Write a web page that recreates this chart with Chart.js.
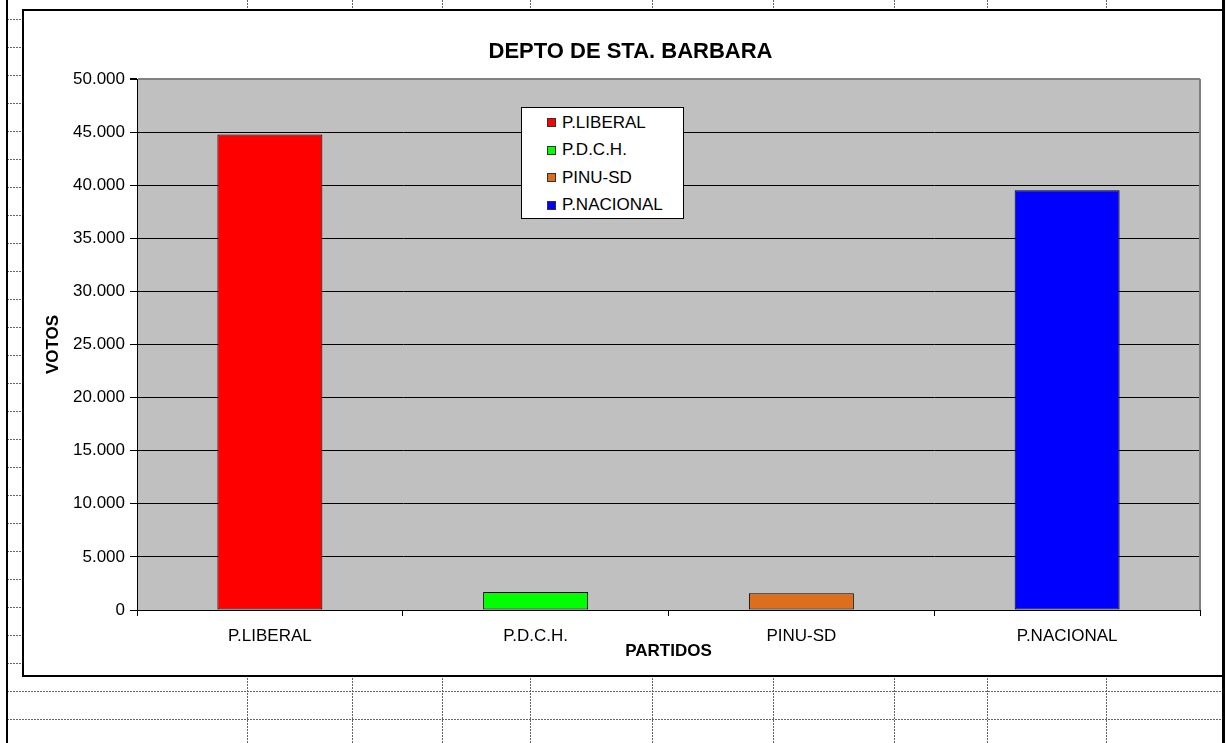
<!DOCTYPE html>
<html>
<head>
<meta charset="utf-8">
<script src="https://cdn.jsdelivr.net/npm/chart.js@4/dist/chart.umd.min.js"></script>
<style>
	body { margin: 0; width: 1226px; height: 743px; overflow: hidden; background: #fff; position: relative; font-family: Arial, "Liberation Sans", sans-serif; }
	#sheet { position: absolute; left: 0; top: 0; }
	#frame { position: absolute; left: 22px; top: 9px; width: 1198px; height: 664px; border: 2px solid #000; background: #fff; }
	#chart { position: absolute; left: 0; top: 0; }
	#title { position: absolute; left: 0; top: 27px; width: 1213px; text-align: center; font-weight: bold; font-size: 22px; line-height: 26px; color: #000; }
	#legend { position: absolute; left: 497px; top: 96px; width: 161px; height: 110px; border: 1px solid #000; background: #fff; }
	#legend .row { position: absolute; left: 0; height: 27.5px; display: flex; align-items: center; font-size: 17px; color: #000; white-space: nowrap; }
	#legend .box { width: 7px; height: 7px; border: 1px solid #333; margin-left: 25px; margin-right: 6px; }
</style>
</head>
<body>
<canvas id="sheet" width="1226" height="743"></canvas>
<div id="frame">
	<canvas id="chart" width="1198" height="664"></canvas>
	<div id="title">DEPTO DE STA. BARBARA</div>
	<div id="legend"></div>
</div>
<script>
	const partidos = ["P.LIBERAL", "P.D.C.H.", "PINU-SD", "P.NACIONAL"];
	const votos = [44770, 1700, 1570, 39520];
	const colores = ["#FF0000", "#00FF00", "#DC6E1E", "#0000FF"];
	const yMax = 50000;
	const yStep = 5000;

	// hoja de calculo de fondo
	const sh = document.getElementById("sheet").getContext("2d");
	const cols = [247, 352, 442, 530, 652, 773, 894, 987, 1106];
	sh.strokeStyle = "#666";
	sh.lineWidth = 1;
	sh.setLineDash([2, 1]);
	for (let y = 19.5; y < 743; y += 28) {
		sh.beginPath(); sh.moveTo(7, y); sh.lineTo(1222, y); sh.stroke();
	}
	for (const x of cols) {
		sh.beginPath(); sh.moveTo(x + 0.5, 0); sh.lineTo(x + 0.5, 743); sh.stroke();
	}
	sh.setLineDash([]);
	sh.fillStyle = "#000";
	sh.fillRect(6, 0, 2, 743);
	sh.fillRect(1222, 0, 3, 743);

	// leyenda
	const legend = document.getElementById("legend");
	partidos.forEach((p, i) => {
		const row = document.createElement("div");
		row.className = "row";
		row.style.top = (1 + 27.5 * i) + "px";
		row.innerHTML = `<span class="box" style="background:${colores[i]}"></span>${p}`;
		legend.appendChild(row);
	});

	const fmt = v => String(v).replace(/\B(?=(\d{3})+(?!\d))/g, ".");

	const plotArea = {
		id: "plotArea",
		beforeDraw(chart) {
			const { ctx, chartArea: a } = chart;
			ctx.save();
			ctx.fillStyle = "#C0C0C0";
			ctx.fillRect(a.left, a.top, a.width, a.height);
			ctx.restore();
		},
		beforeDatasetsDraw(chart) {
			const { ctx, chartArea: a } = chart;
			ctx.save();
			ctx.strokeStyle = "#808080";
			ctx.lineWidth = 2;
			ctx.beginPath();
			ctx.moveTo(a.right, a.top);
			ctx.lineTo(a.right, a.bottom);
			ctx.stroke();
			ctx.restore();
		}
	};

	new Chart(
		document.getElementById("chart"),
		{
			type: "bar",
			data: {
				labels: partidos,
				datasets: [{
					label: "VOTOS",
					data: votos,
					backgroundColor: colores,
					borderColor: "#000",
					borderWidth: 1,
					borderSkipped: false,
					barPercentage: 0.395,
					categoryPercentage: 1
				}]
			},
			options: {
				responsive: false,
				animation: false,
				layout: { padding: { top: 68, right: 22, left: 0, bottom: 0 } },
				plugins: {
					legend: { display: false },
					title: { display: false },
					tooltip: { enabled: false }
				},
				scales: {
					x: {
						afterFit: s => { s.height = 65; },
						grid: { display: true, drawOnChartArea: false, offset: true, tickLength: 6, color: "#000" },
						border: { display: true, color: "#000", width: 1 },
						ticks: { color: "#000", padding: 10.5, font: { family: "Arial, 'Liberation Sans'", size: 17 } },
						title: { display: true, text: "PARTIDOS", color: "#000", padding: { top: 0, bottom: 13 }, font: { family: "Arial, 'Liberation Sans'", size: 17, weight: "bold" } }
					},
					y: {
						min: 0,
						max: yMax,
						afterFit: s => { s.width = 113; },
						grid: {
							color: c => c.tick && c.tick.value === yMax ? "#808080" : "#000",
							lineWidth: c => c.tick && c.tick.value === yMax ? 2 : 1,
							tickColor: "#000",
							tickLength: 7
						},
						border: { display: true, color: "#000", width: 1 },
						ticks: {
							stepSize: yStep,
							color: "#000",
							padding: 5,
							font: { family: "Arial, 'Liberation Sans'", size: 17 },
							callback: v => fmt(v)
						},
						title: { display: true, text: "VOTOS", color: "#000", padding: { top: 19, bottom: 0 }, font: { family: "Arial, 'Liberation Sans'", size: 17, weight: "bold" } }
					}
				}
			},
			plugins: [plotArea]
		}
	);
</script>
</body>
</html>
